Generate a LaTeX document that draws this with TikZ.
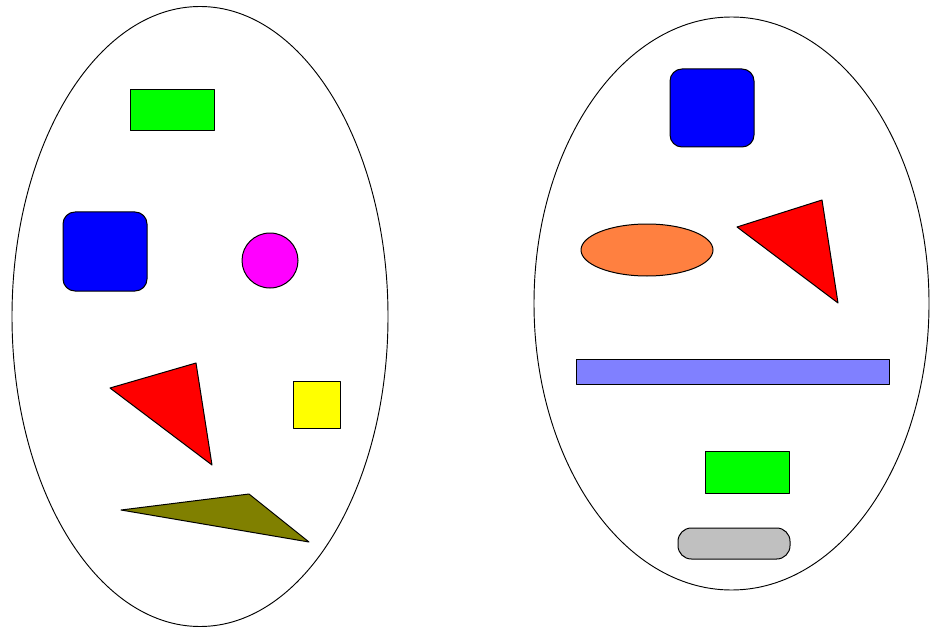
\documentclass[tikz,border=0pt]{standalone}
\usetikzlibrary{shapes.geometric}
\definecolor{cgreen}{HTML}{00FF00}
\definecolor{cblue}{HTML}{0000FF}
\definecolor{cmag}{HTML}{FF00FF}
\definecolor{cred}{HTML}{FF0000}
\definecolor{cyel}{HTML}{FFFF00}
\definecolor{colive}{HTML}{808000}
\definecolor{corange}{HTML}{FF8040}
\definecolor{clav}{HTML}{8080FF}
\definecolor{cgray}{HTML}{C0C0C0}
\tikzset{
  shapeline/.style={draw=black, line width=0.75pt, line join=round},
  outline/.style={draw=black, line width=0.7pt},
  roundbox/.style={shapeline, rounded corners=9pt}
}
\begin{document}
\begin{tikzpicture}[x=0.75pt,y=-0.75pt]
\useasboundingbox (0,0) rectangle (930,627);
% left ellipse
\draw[outline] (200,316.5) ellipse [x radius=188, y radius=310];
\filldraw[shapeline, fill=cgreen] (130,90) rectangle (214,131);
\filldraw[roundbox, fill=cblue] (63,212) rectangle (147,291);
\filldraw[shapeline, fill=cmag] (270,260.5) ellipse [x radius=28, y radius=27.5];
\filldraw[shapeline, fill=cred] (110,388) -- (196,363) -- (212,465) -- cycle;
\filldraw[shapeline, fill=cyel] (293,381) rectangle (340,428);
\filldraw[shapeline, fill=colive] (121,510) -- (249,494) -- (309,542) -- cycle;
% right ellipse
\draw[outline] (731.5,303.5) ellipse [x radius=197.5, y radius=286.5];
\filldraw[roundbox, fill=cblue] (670,69) rectangle (754,147);
\filldraw[shapeline, fill=corange] (647,250) ellipse [x radius=66, y radius=26];
\filldraw[shapeline, fill=cred] (737,227) -- (822,200) -- (838,303) -- cycle;
\filldraw[shapeline, fill=clav] (576,359) rectangle (889,384);
\filldraw[shapeline, fill=cgreen] (705,451) rectangle (789,493);
\filldraw[shapeline, fill=cgray, rounded corners=10pt] (678,528) rectangle (790,559);
\end{tikzpicture}
\end{document}
